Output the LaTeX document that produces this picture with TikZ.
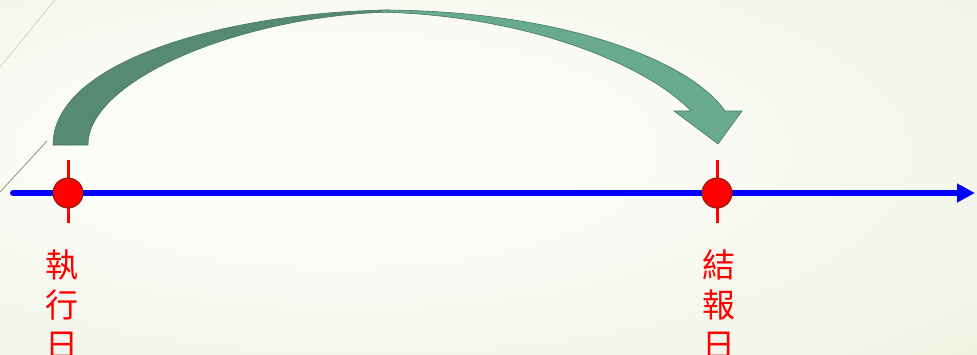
\documentclass[tikz,border=0pt]{standalone}
\usepackage{fontspec}
\newfontfamily\tcfont{Noto Sans CJK TC}
\usepackage{tikz}
\usetikzlibrary{positioning,calc,arrows.meta}
\definecolor{arrowdark}{RGB}{86,138,116}
\definecolor{arrowlight}{RGB}{103,170,141}
\definecolor{arrowedge}{RGB}{72,118,98}
\definecolor{dotedge}{RGB}{130,40,20}
\definecolor{bgin}{RGB}{252,253,249}
\definecolor{bgout}{RGB}{226,232,204}
\definecolor{decoline}{RGB}{150,143,125}
\pgfdeclareradialshading{slidebg}{\pgfpoint{-10bp}{5bp}}{color(0bp)=(bgin); color(12bp)=(bgin); color(72bp)=(bgout)}

\begin{document}
\begin{tikzpicture}[x=1pt, y=-1pt, dot/.style = {circle, draw=dotedge, line width=1pt, fill=red, minimum size=30pt, inner sep=0pt}, tickline/.style={red, line width=3pt}, axis/.style={blue, line width=6pt, line cap=round, -{Triangle[length=18pt,width=18pt]}}, datelabel/.style={red, font=\tcfont\fontsize{33}{40}\selectfont, align=center, anchor=north, inner sep=0pt}]

\useasboundingbox (0,0) rectangle (977,354);
\shade[shading=slidebg] (0,0) rectangle (977,354);

%\draw[help lines] (0,0) grid (977,354);
\draw[decoline!50, line width=0.6pt] (0,67) -- (55,0);
\draw[decoline, line width=0.8pt] (0,192) -- (47,141);

% curved arrow
\filldraw[fill=arrowdark, draw=arrowedge, line width=0.6pt] (53,145) .. controls (53,60) and (230,12) .. (390,10) -- (390,12) .. controls (240,16) and (88,80) .. (88,145) -- cycle;
\filldraw[fill=arrowlight, draw=arrowedge, line width=0.6pt] (380,10) .. controls (560,10) and (690,60) .. (725,111) -- (742,111) -- (718,144) -- (674,111) -- (691,111) .. controls (650,68) and (535,16) .. (380,12) -- cycle;

\coordinate (axisstart) at (13,193);
\coordinate (axisend) at (975,193);
\draw[axis] (axisstart) -- (axisend);

\coordinate (exectop) at (68,160);
\coordinate (execbot) at (68,223);
\coordinate (reporttop) at (717,160);
\coordinate (reportbot) at (717,223);
\draw[tickline] (exectop) -- (execbot);
\draw[tickline] (reporttop) -- (reportbot);

\node[dot] (exec) at (68,193) {};
\node[dot] (report) at (717,193) {};

\node[datelabel, xshift=-6pt] (execlabel) [below=41pt of exec] {執\\行\\日};
\node[datelabel, xshift=2pt] (reportlabel) [below=41pt of report] {結\\報\\日};
\end{tikzpicture}
\end{document}
